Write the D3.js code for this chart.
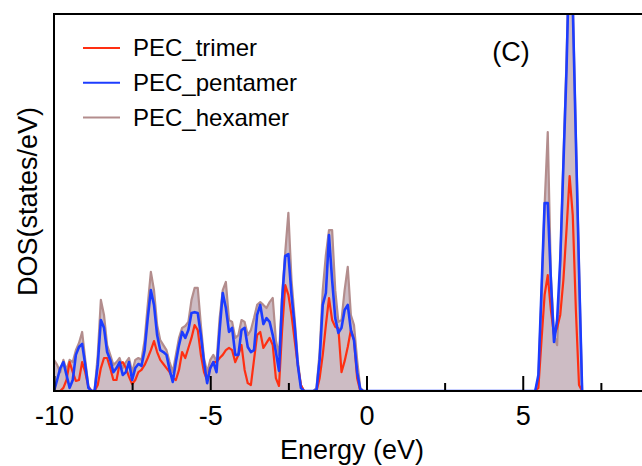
<!DOCTYPE html>
<html>
<head>
<meta charset="utf-8">
<script src="https://cdn.jsdelivr.net/npm/d3@7"></script>
<style>
  body { margin: 0; background: #fff; }
  svg { display: block; font-family: "Liberation Sans", Arial, sans-serif; }
</style>
</head>
<body>
<div id="chart"></div>
<script>
// Energy grid (eV): valence band -10..0, conduction band 5.3..6.9
const energy = [
  -10.0, -9.9, -9.8, -9.7, -9.6, -9.5, -9.4, -9.3, -9.2, -9.1,
  -9.0, -8.9, -8.8, -8.7, -8.6, -8.5, -8.4, -8.3, -8.2, -8.1,
  -8.0, -7.9, -7.8, -7.7, -7.6, -7.5, -7.4, -7.3, -7.2, -7.1,
  -7.0, -6.9, -6.8, -6.7, -6.6, -6.5, -6.4, -6.3, -6.2, -6.1,
  -6.0, -5.9, -5.8, -5.7, -5.6, -5.5, -5.4, -5.3, -5.2, -5.1,
  -5.0, -4.9, -4.8, -4.7, -4.6, -4.5, -4.4, -4.3, -4.2, -4.1,
  -4.0, -3.9, -3.8, -3.7, -3.6, -3.5, -3.4, -3.3, -3.2, -3.1,
  -3.0, -2.9, -2.8, -2.7, -2.6, -2.5, -2.4, -2.3, -2.2, -2.1,
  -2.0, -1.9, -1.8, -1.7, -1.6, -1.5, -1.4, -1.3, -1.2, -1.1,
  -1.0, -0.9, -0.8, -0.7, -0.6, -0.5, -0.4, -0.3, -0.2, -0.1,
  0.0,
  5.3, 5.4, 5.5, 5.6, 5.7, 5.8, 5.9, 6.0, 6.1, 6.2,
  6.3, 6.4, 6.5, 6.6, 6.7, 6.8, 6.9
];

const trimer = [
  0, 0, 0, 0.10, 0.35, 0.92, 0.60, 0.32, 0.35, 0.92,
  0.60, 0.13, 0, 0, 0.19, 0.73, 1.05, 1.05, 0.73, 0.35,
  0.35, 0.86, 0.92, 0.73, 0.45, 0.22, 0.35, 0.60, 0.67, 0.83,
  1.05, 1.30, 1.59, 1.24, 0.99, 0.86, 0.73, 0.60, 0.41, 0.35,
  0.67, 1.24, 1.05, 1.37, 1.69, 2.10, 1.94, 1.15, 0.60, 0.35,
  0.73, 0.92, 0.92, 1.05, 1.15, 1.30, 1.37, 1.30, 0.92, 1.15,
  1.46, 0.67, 0.25, 0.19, 0.99, 1.78, 1.88, 1.37, 1.53, 1.69,
  1.46, 0.41, 0.16, 1.94, 3.37, 3.06, 2.42, 1.62, 0.83, 0.19,
  0, 0, 0, 0, 0, 0.41, 1.15, 2.10, 2.96, 2.26,
  2.04, 2.00, 0.60, 0.95, 1.40, 1.94, 1.62, 0.41, 0, 0,
  0,
  0, 0, 0.10, 1.62, 3.06, 3.69, 2.58, 1.78, 2.01, 2.42,
  3.53, 5.12, 6.84, 5.60, 2.58, 0.19, 0
];

const pentamer = [
  0, 0.35, 0.73, 0.92, 0.51, 0.10, 0.35, 1.15, 1.40, 1.50,
  0.83, 0.10, 0, 0, 0.83, 2.26, 2.01, 1.24, 0.99, 0.60,
  0.73, 0.92, 0.51, 0.60, 0.92, 0.35, 0.73, 0.86, 0.80, 1.30,
  2.32, 3.21, 2.74, 1.78, 1.30, 1.24, 1.15, 0.67, 0.29, 0.92,
  1.46, 1.88, 1.69, 1.94, 2.48, 2.51, 2.48, 1.78, 0.92, 0.25,
  0.73, 0.92, 0.60, 1.94, 3.12, 2.64, 1.88, 2.01, 1.15, 1.15,
  1.94, 2.01, 1.40, 1.24, 1.30, 2.42, 2.74, 2.13, 2.32, 2.20,
  1.78, 1.24, 0.64, 2.90, 4.30, 4.36, 3.06, 2.10, 0.83, 0.10,
  0, 0, 0, 0, 0.03, 0.99, 2.74, 3.12, 4.96, 3.53,
  2.32, 1.85, 2.01, 2.58, 2.74, 1.94, 1.62, 0.60, 0.06, 0,
  0,
  0, 0, 0.51, 3.21, 5.98, 5.98, 3.53, 1.56, 2.26, 4.17,
  7.19, 10.22, 14.35, 12.28, 7.99, 3.85, 0
];

const hexamer = [
  0.99, 0.83, 0.60, 0.99, 0.67, 0.99, 0.92, 1.30, 1.53, 1.88,
  0.99, 0.16, 0, 0.03, 1.15, 2.90, 2.42, 1.46, 1.15, 0.83,
  0.92, 1.05, 0.73, 0.92, 1.05, 0.60, 0.99, 1.05, 0.99, 1.62,
  2.74, 3.79, 3.21, 2.10, 1.62, 1.46, 1.30, 0.92, 0.60, 1.15,
  1.69, 2.01, 2.07, 2.20, 2.90, 3.28, 3.28, 2.10, 1.05, 0.60,
  0.99, 1.15, 0.92, 2.32, 3.21, 3.47, 2.26, 2.20, 1.69, 1.78,
  2.26, 2.20, 1.78, 1.94, 2.32, 2.74, 2.83, 2.74, 2.64, 2.83,
  2.96, 1.62, 1.15, 3.06, 4.42, 5.67, 3.53, 2.32, 0.99, 0.19,
  0, 0, 0, 0, 0.10, 1.24, 3.21, 4.33, 5.12, 5.12,
  3.21, 2.20, 2.26, 3.21, 3.95, 2.42, 2.10, 0.99, 0.10, 0,
  0,
  0, 0, 0.41, 3.06, 5.92, 8.24, 3.69, 1.78, 1.46, 4.01,
  7.35, 10.53, 14.35, 12.44, 8.15, 4.01, 0
];

const seriesNames = ["PEC_trimer", "PEC_pentamer", "PEC_hexamer"];
const majorTicks = [-10, -5, 0, 5];
const minorTicks = [-7.5, -2.5, 2.5, 7.5];

// 1. canvas + margins (right side of the frame runs off the picture)
const margin = {top: 14, left: 54},
      width = 679 - margin.left,
      height = 391 - margin.top;

const svg = d3.select("#chart")
  .append("svg")
    .attr("width", 642)
    .attr("height", 466)
  .append("g")
    .attr("transform", `translate(${margin.left},${margin.top})`);

// 2. scales
const x = d3.scaleLinear().domain([-10, 10]).range([0, width]);
const y = d3.scaleLinear().domain([0, 12]).range([height, 0]);

const color = d3.scaleOrdinal()
  .domain(seriesNames)
  .range(["#ff2f12", "#1c3cff", "#b38d8d"]);

const rows = energy.map((e, i) => ({e, trimer: trimer[i], pentamer: pentamer[i], hexamer: hexamer[i]}));

svg.append("clipPath").attr("id", "clip")
  .append("rect").attr("width", width).attr("height", height);

const plot = svg.append("g").attr("clip-path", "url(#clip)");

// 3. hexamer filled, then the lines on top
plot.append("path")
  .datum(rows)
  .attr("fill", "#cdbcc4")
  .attr("d", d3.area().x(d => x(d.e)).y0(y(0)).y1(d => y(d.hexamer)));

const keys = ["hexamer", "trimer", "pentamer"];
keys.forEach(function(k) {
  plot.append("path")
    .datum(rows)
    .attr("fill", "none")
    .attr("stroke", color("PEC_" + k))
    .attr("stroke-width", k === "pentamer" ? 2.6 : 2.2)
    .attr("stroke-linejoin", "round")
    .attr("d", d3.line().x(d => x(d.e)).y(d => y(d[k])));
});

// 4. frame + inward ticks
svg.append("rect")
  .attr("width", width).attr("height", height)
  .attr("fill", "none").attr("stroke", "#000").attr("stroke-width", 2);

const xMajor = svg.append("g")
  .attr("transform", `translate(0,${height})`)
  .call(d3.axisBottom(x).tickValues(majorTicks).tickSize(-15).tickPadding(15)
    .tickFormat(d => String(d)));

const xMinor = svg.append("g")
  .attr("transform", `translate(0,${height})`)
  .call(d3.axisBottom(x).tickValues(minorTicks).tickSize(-8).tickFormat(""));

[xMajor, xMinor].forEach(function(g) {
  g.select(".domain").remove();
  g.selectAll(".tick line").attr("stroke", "#000").attr("stroke-width", 2);
});
xMajor.selectAll(".tick text")
  .attr("fill", "#000")
  .style("font-size", "27px")
  .style("font-family", "'Liberation Sans', Arial, sans-serif");

// 5. axis titles
svg.append("text")
  .attr("x", 352 - margin.left).attr("y", 459 - margin.top)
  .attr("text-anchor", "middle")
  .style("font-size", "27px")
  .text("Energy (eV)");

svg.append("text")
  .attr("transform", `translate(${37 - margin.left},${height / 2 - 1}) rotate(-90)`)
  .attr("text-anchor", "middle")
  .style("font-size", "27px")
  .text("DOS(states/eV)");

svg.append("text")
  .attr("x", 511 - margin.left).attr("y", 61 - margin.top)
  .attr("text-anchor", "middle")
  .style("font-size", "27px")
  .text("(C)");

// 6. legend
const legend = svg.append("g")
  .attr("transform", `translate(${83 - margin.left},${48 - margin.top})`);

seriesNames.forEach(function(name, i) {
  const row = legend.append("g").attr("transform", `translate(0,${i * 34.7})`);
  row.append("line")
    .attr("x1", 0).attr("x2", 37)
    .attr("stroke", color(name)).attr("stroke-width", 2);
  row.append("text")
    .attr("x", 50).attr("dy", "0.35em")
    .style("font-size", "24px")
    .text(name);
});
</script>
</body>
</html>
